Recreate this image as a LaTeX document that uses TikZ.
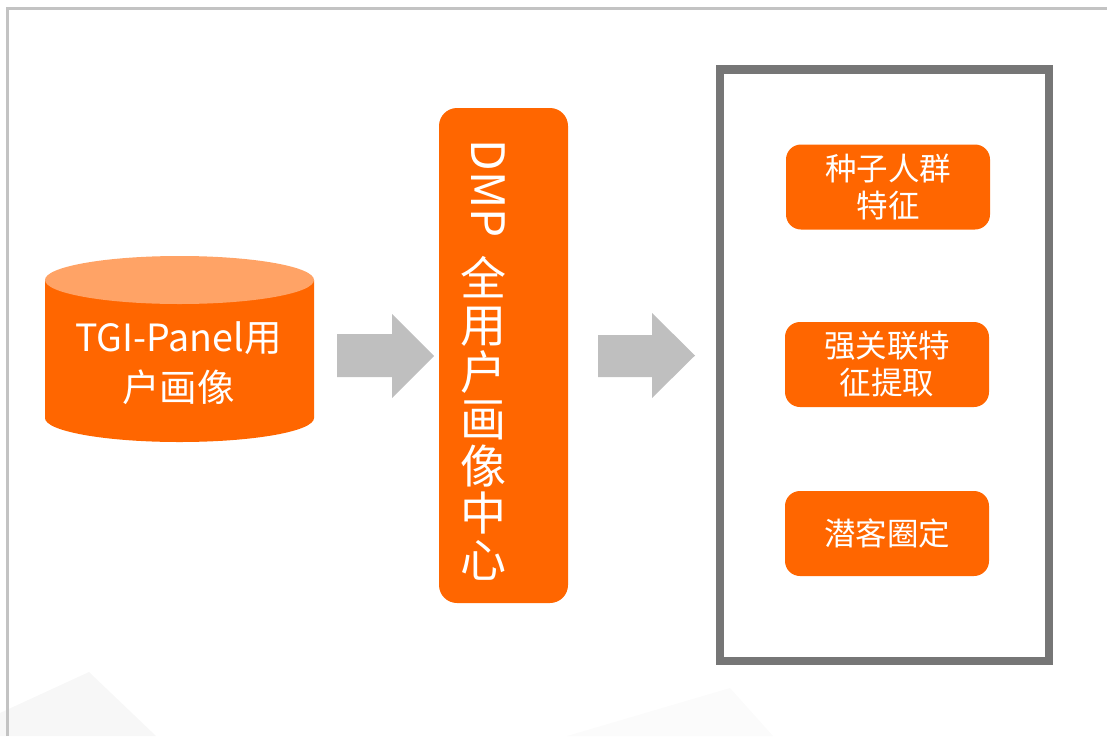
\documentclass[tikz,border=0pt]{standalone}
\usepackage{fontspec}
\setmainfont{Noto Sans CJK SC}
\definecolor{dmporange}{HTML}{FF6600}
\definecolor{dmptop}{HTML}{FFA366}
\definecolor{arrowgray}{HTML}{BFBFBF}
\definecolor{boxgray}{HTML}{767676}
\definecolor{framegray}{HTML}{C3C3C3}
\tikzset{
  featbox/.style={fill=dmporange, rounded corners=15pt, minimum width=204pt,
    minimum height=85pt, text=white, align=center, inner sep=0pt,
    font=\fontsize{31.5}{37}\selectfont},
  blockarrow/.style={fill=arrowgray},
}
\begin{document}
\begin{tikzpicture}[x=1pt,y=-1pt]
  \useasboundingbox (0,0) rectangle (1107,736);
  % faint background shapes
  \fill[black!3] (0,713) -- (89,672) -- (156,736) -- (0,736) -- cycle;
  \fill[black!1.5] (567,736) -- (730,688) -- (773,736) -- cycle;
  % frame
  \draw[framegray, line width=3pt] (7,736) -- (7,8) -- (1107,8);
  % cylinder
  \fill[dmporange] (45,280) -- (45,418)
    arc[start angle=180, end angle=0, x radius=134.5, y radius=24]
    -- (314,280) -- cycle;
  \fill[dmptop] (179.5,280) ellipse[x radius=134.5, y radius=24];
  \node[text=white, align=center, inner sep=0pt,
    font=\fontsize{37.5}{50}\selectfont] (tgi) at (178.5,363) {TGI-Panel用\\户画像};
  % block arrows
  \fill[blockarrow] (337,334) -- (392,334) -- (392,314) -- (434,356)
    -- (392,398) -- (392,377) -- (337,377) -- cycle;
  \fill[blockarrow] (598,335) -- (652,335) -- (652,313) -- (695,355.5)
    -- (652,398) -- (652,377) -- (598,377) -- cycle;
  % DMP centre
  \node[fill=dmporange, rounded corners=18pt, minimum width=129pt,
    minimum height=495pt, inner sep=0pt] (dmp) at (503.5,355.5) {};
  \node[rotate=-90, text=white, inner sep=0pt,
    font=\fontsize{46}{46}\selectfont] (dmpname) at (488,189) {DMP};
  \node[text=white, align=center, inner sep=0pt,
    font=\fontsize{46}{47}\selectfont] (dmpcjk) at (483,418)
    {全\\用\\户\\画\\像\\中\\心};
  % right panel
  \node[draw=boxgray, line width=8.5pt, minimum width=329pt,
    minimum height=591.5pt, inner sep=0pt] (panel) at (884.5,365.25) {};
  \node[featbox] (seed) at (888,187) {种子人群\\特征};
  \node[featbox] (feat) at (887,364.5) {强关联特\\征提取};
  \node[featbox] (lookalike) at (887,533.5) {潜客圈定};
\end{tikzpicture}
\end{document}
